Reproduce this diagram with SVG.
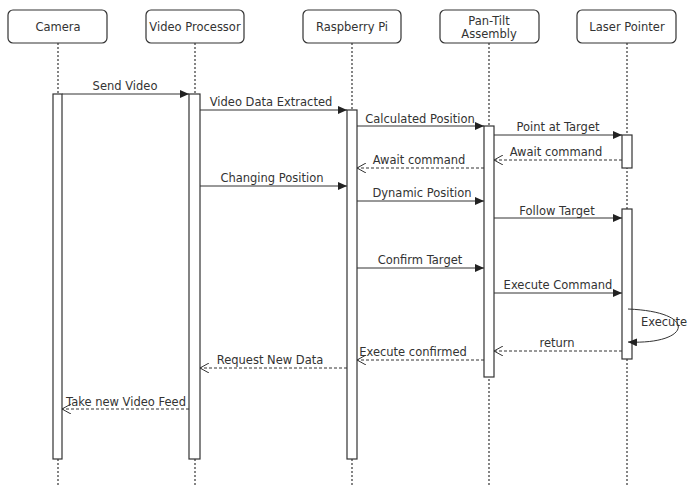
<svg xmlns="http://www.w3.org/2000/svg" width="692" height="487" viewBox="0 0 692 487">
<defs>
<marker id="fill" markerWidth="10" markerHeight="8" refX="9" refY="4" orient="auto" markerUnits="userSpaceOnUse"><path d="M0,0 L9,4 L0,8 z" fill="#222"/></marker>
<marker id="open" markerWidth="10" markerHeight="10" refX="9" refY="5" orient="auto" markerUnits="userSpaceOnUse"><path d="M0,0 L9,5 L0,10" fill="none" stroke="#333" stroke-width="1"/></marker>
</defs>
<style>
.hdr{fill:#fff;stroke:#333;stroke-width:1.2}
.t{font-family:"DejaVu Sans",Verdana,sans-serif;font-size:11.5px;fill:#333}
.life{stroke:#444;stroke-width:1.3;stroke-dasharray:2,2}
.act{fill:#fff;stroke:#333;stroke-width:1.2}
.msg{stroke:#333;stroke-width:1;fill:none;marker-end:url(#fill)}
.ret{stroke:#333;stroke-width:1;fill:none;stroke-dasharray:3,2;marker-end:url(#open)}
</style>
<rect width="692" height="487" fill="#fff"/>
<g id="lifelines">
<line class="life" x1="58" y1="43" x2="58" y2="487"/>
<line class="life" x1="195" y1="43" x2="195" y2="487"/>
<line class="life" x1="352" y1="43" x2="352" y2="487"/>
<line class="life" x1="489" y1="43" x2="489" y2="487"/>
<line class="life" x1="627" y1="43" x2="627" y2="487"/>
</g>
<g id="camera"><rect class="hdr" x="8" y="10" width="99" height="33" rx="5"/><text class="t" x="58" y="31" text-anchor="middle">Camera</text></g>
<g id="video-processor"><rect class="hdr" x="146" y="10" width="98" height="33" rx="5"/><text class="t" x="195" y="31" text-anchor="middle">Video Processor</text></g>
<g id="raspberry-pi"><rect class="hdr" x="303" y="10" width="98" height="33" rx="5"/><text class="t" x="352" y="31" text-anchor="middle">Raspberry Pi</text></g>
<g id="pan-tilt"><rect class="hdr" x="440" y="10" width="99" height="33" rx="5"/><text class="t" x="489" y="25" text-anchor="middle">Pan-Tilt</text><text class="t" x="489" y="38" text-anchor="middle">Assembly</text></g>
<g id="laser-pointer"><rect class="hdr" x="577" y="10" width="99" height="33" rx="5"/><text class="t" x="627" y="31" text-anchor="middle">Laser Pointer</text></g>
<g id="activations">
<rect class="act" x="53" y="94" width="9" height="365"/>
<rect class="act" x="189" y="94" width="11" height="365"/>
<rect class="act" x="347" y="110" width="10" height="349"/>
<rect class="act" x="484" y="126" width="10" height="251"/>
<rect class="act" x="622" y="135" width="10" height="33"/>
<rect class="act" x="622" y="209" width="10" height="150"/>
</g>
<g id="connectors">
<line class="msg" x1="62" y1="94" x2="189" y2="94"/>
<line class="msg" x1="200" y1="110" x2="347" y2="110"/>
<line class="msg" x1="357" y1="126" x2="484" y2="126"/>
<line class="msg" x1="494" y1="135" x2="622" y2="135"/>
<line class="ret" x1="622" y1="160" x2="494" y2="160"/>
<line class="ret" x1="484" y1="168" x2="357" y2="168"/>
<line class="msg" x1="200" y1="186" x2="347" y2="186"/>
<line class="msg" x1="357" y1="201" x2="484" y2="201"/>
<line class="msg" x1="494" y1="218" x2="622" y2="218"/>
<line class="msg" x1="357" y1="268" x2="484" y2="268"/>
<line class="msg" x1="494" y1="293" x2="622" y2="293"/>
<path class="msg" d="M628,309 C700,312 690,345 628,342"/>
<line class="ret" x1="622" y1="351" x2="494" y2="351"/>
<line class="ret" x1="484" y1="360" x2="357" y2="360"/>
<line class="ret" x1="347" y1="368" x2="200" y2="368"/>
<line class="ret" x1="189" y1="409" x2="62" y2="409"/>
</g>
<g id="labels">
<text class="t" x="125" y="90" text-anchor="middle">Send Video</text>
<text class="t" x="271" y="106" text-anchor="middle">Video Data Extracted</text>
<text class="t" x="420" y="123" text-anchor="middle">Calculated Position</text>
<text class="t" x="558" y="131" text-anchor="middle">Point at Target</text>
<text class="t" x="556" y="156" text-anchor="middle">Await command</text>
<text class="t" x="419" y="164" text-anchor="middle">Await command</text>
<text class="t" x="272" y="182" text-anchor="middle">Changing Position</text>
<text class="t" x="422" y="197" text-anchor="middle">Dynamic Position</text>
<text class="t" x="557" y="215" text-anchor="middle">Follow Target</text>
<text class="t" x="420" y="264" text-anchor="middle">Confirm Target</text>
<text class="t" x="558" y="289" text-anchor="middle">Execute Command</text>
<text class="t" x="641" y="326">Execute</text>
<text class="t" x="557" y="347" text-anchor="middle">return</text>
<text class="t" x="413" y="356" text-anchor="middle">Execute confirmed</text>
<text class="t" x="270" y="364" text-anchor="middle">Request New Data</text>
<text class="t" x="126" y="406" text-anchor="middle">Take new Video Feed</text>
</g>
</svg>
